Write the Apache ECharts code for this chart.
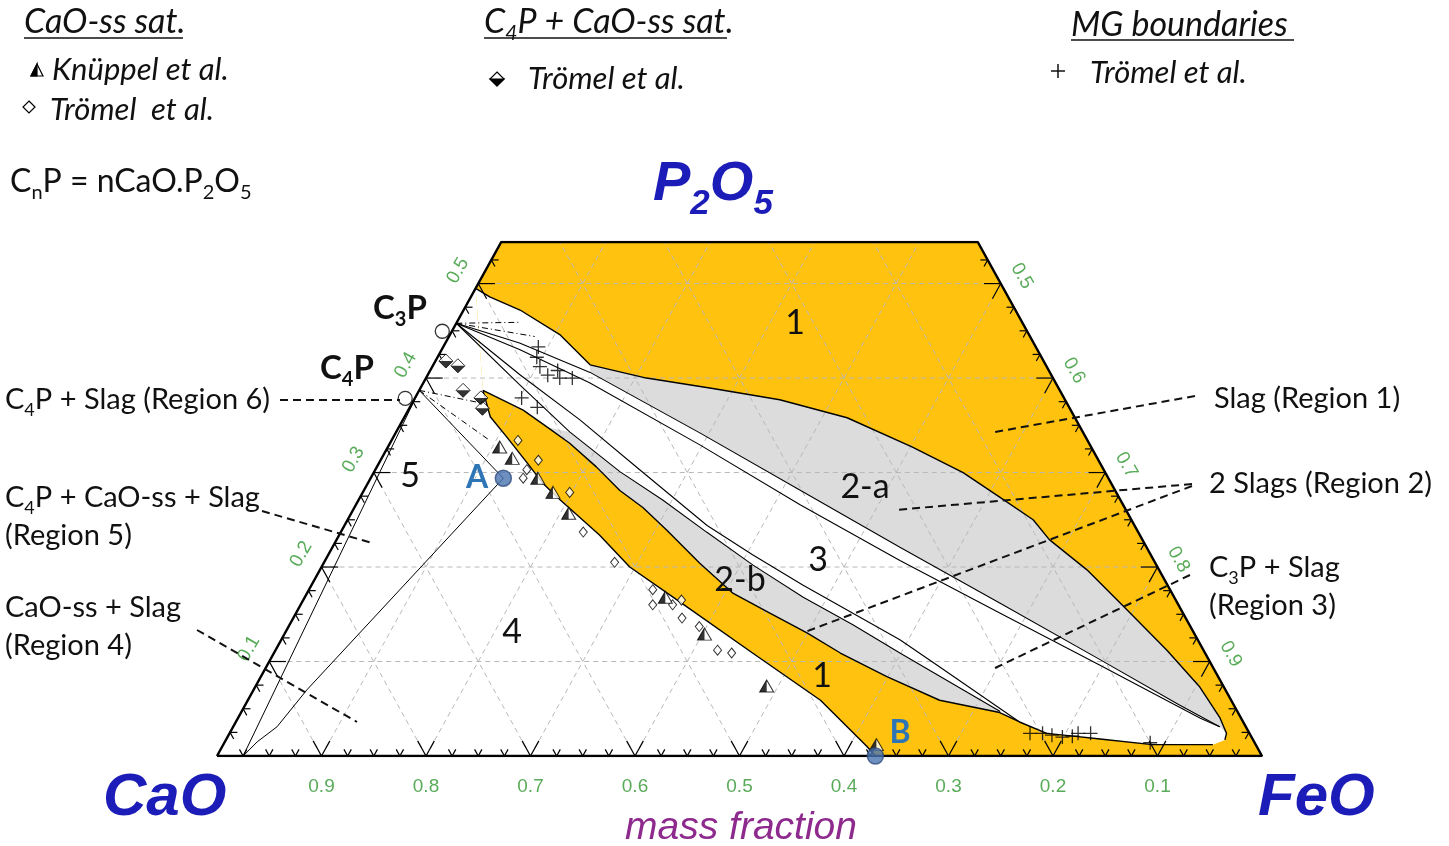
<!DOCTYPE html>
<html>
<head>
<meta charset="utf-8">
<script src="https://cdn.jsdelivr.net/npm/echarts@6/dist/echarts.min.js"></script>
<style>
html, body { margin: 0; padding: 0; background: #fff; }
#chart { width: 1449px; height: 846px; }
</style>
</head>
<body>
<div id="chart"></div>
<script>
// compositions are [CaO, P2O5] mass fractions, FeO = 1 - CaO - P2O5
var P_MAX = 0.544;
var C3P = [0.542, 0.458];
var C4P = [0.613, 0.387];
var CAO_SS = [0.975, 0.0];
var pointA = [0.579, 0.294];
var pointB = [0.370, 0.0];

// liquid boundary, upper branch (left edge -> FeO-rich tip)
var upperBoundary = [
  [0.505, 0.495], [0.496, 0.486], [0.474, 0.472], [0.449, 0.446], [0.436, 0.414],
  [0.389, 0.400], [0.331, 0.389], [0.273, 0.377], [0.218, 0.358], [0.171, 0.327],
  [0.136, 0.300], [0.114, 0.274], [0.094, 0.250], [0.089, 0.229], [0.069, 0.197],
  [0.052, 0.155], [0.035, 0.112], [0.023, 0.073], [0.020, 0.041], [0.022, 0.024],
  [0.027, 0.017]
];
// liquid boundary, lower branch (tip -> top of the CaO-ss band)
var lowerBoundary = [
  [0.041, 0.012], [0.099, 0.012], [0.146, 0.018], [0.170, 0.021], [0.194, 0.024],
  [0.214, 0.036], [0.228, 0.046], [0.279, 0.059], [0.317, 0.084], [0.349, 0.109],
  [0.370, 0.130], [0.395, 0.151], [0.420, 0.172], [0.436, 0.204], [0.450, 0.239],
  [0.461, 0.263], [0.474, 0.281], [0.484, 0.306], [0.497, 0.331], [0.510, 0.348],
  [0.524, 0.366], [0.552, 0.387]
];
// CaO-ss saturation line (band top -> B)
var caoSatLine = [
  [0.552, 0.387], [0.559, 0.359], [0.554, 0.338], [0.548, 0.310], [0.544, 0.289],
  [0.536, 0.271], [0.517, 0.234], [0.505, 0.200], [0.477, 0.165], [0.433, 0.109],
  [0.393, 0.059], [0.373, 0.010], [0.370, 0.0]
];
// lines fanning from C3P through the miscibility gap
var mgLine1 = [C3P, [0.492, 0.437], [0.440, 0.406], [0.367, 0.342], [0.301, 0.281], [0.236, 0.221],
  [0.170, 0.162], [0.104, 0.102], [0.052, 0.054], [0.025, 0.031]];
var mgLine2 = [C3P, [0.495, 0.430], [0.446, 0.395], [0.373, 0.329], [0.309, 0.266], [0.243, 0.207],
  [0.175, 0.151], [0.107, 0.096], [0.039, 0.040], [0.025, 0.031]];
var mgLine3 = [C3P, [0.508, 0.403], [0.475, 0.356], [0.444, 0.303], [0.409, 0.244], [0.381, 0.213],
  [0.349, 0.181], [0.316, 0.151], [0.285, 0.123], [0.261, 0.094], [0.214, 0.036]];
var mgLine4 = [C3P, [0.514, 0.393], [0.491, 0.343], [0.464, 0.301], [0.438, 0.271], [0.413, 0.237],
  [0.386, 0.202], [0.355, 0.168], [0.322, 0.139], [0.292, 0.109], [0.227, 0.047]];
var c3pDashDot = [[C3P, [0.480, 0.459]], [C3P, [0.474, 0.444]]];
var c4pDashDot = [[C4P, [0.562, 0.374]], [C4P, [0.572, 0.334]]];
var tieLineA = [CAO_SS, [0.954, 0.015], [0.927, 0.031], [0.879, 0.070], pointA];

// measured points
var knuppelCaoSat = [
  [0.566, 0.327], [0.560, 0.315], [0.546, 0.294], [0.539, 0.279], [0.535, 0.257],
  [0.487, 0.168], [0.469, 0.129], [0.437, 0.074], [0.363, 0.012]
];
var tromelCaoSat = [
  [0.545, 0.334], [0.536, 0.313], [0.552, 0.303], [0.560, 0.294], [0.523, 0.279],
  [0.531, 0.237], [0.517, 0.205], [0.495, 0.176], [0.503, 0.160], [0.484, 0.160],
  [0.473, 0.165], [0.482, 0.146], [0.470, 0.137], [0.465, 0.112], [0.453, 0.109]
];
var tromelC4pCaoSat = [[0.572, 0.418], [0.563, 0.413], [0.571, 0.387], [0.558, 0.379], [0.562, 0.368]];
var tromelMG = [
  [0.476, 0.433], [0.483, 0.422], [0.485, 0.412], [0.482, 0.403], [0.470, 0.408],
  [0.472, 0.400], [0.460, 0.400], [0.519, 0.379], [0.509, 0.369],
  [0.210, 0.024], [0.198, 0.024], [0.190, 0.022], [0.181, 0.020], [0.171, 0.021],
  [0.164, 0.024], [0.152, 0.024], [0.100, 0.014]
];

// tick labels
var bottomTickLabels = [0.9, 0.8, 0.7, 0.6, 0.5, 0.4, 0.3, 0.2, 0.1];   // CaO
var leftTickLabels = [0.1, 0.2, 0.3, 0.4, 0.5];                      // P2O5
var rightTickLabels = [0.5, 0.6, 0.7, 0.8, 0.9];                     // FeO

var YELLOW = '#FFC20E';
var GRAY = '#DCDCDC';
var GREEN = '#2f962f';
var BLUE = '#1c1cb8';

function toXY(c) { return [1 - c[0] - c[1] / 2, c[1]]; }

var topLeft = [1 - P_MAX, P_MAX], topRight = [0, P_MAX], feoCorner = [0, 0], caoCorner = [1, 0];
var yellowPoly = [topLeft, topRight, feoCorner, pointB].concat(caoSatLine.slice().reverse(), [upperBoundary[0]]);
var whitePoly = upperBoundary.concat(lowerBoundary);
var gray2a = upperBoundary.slice(4, 20).concat(mgLine1.slice(2).reverse());
var gray2b = mgLine4.slice(2).concat(lowerBoundary.slice(6, 20));

// grid lines every 0.1 and edge ticks every 0.025
var gridSegs = [], tickSegs = [];
for (var i = 1; i <= 9; i++) {
  var v = i / 10;
  if (v < P_MAX) gridSegs.push([[1 - v, v], [0, v]]);
  gridSegs.push([[v, 0], [v, Math.min(1 - v, P_MAX)]]);
  var pf = Math.min(v, P_MAX);
  gridSegs.push([[v, 0], [v - pf, pf]]);
}
function addTick(base, dirs, len) {
  dirs.forEach(function (d) { tickSegs.push([base, [base[0] + d[0] * len, base[1] + d[1] * len]]); });
}
for (var k = 1; k < 40; k++) {
  var t = k * 0.025, len = (k % 4 === 0) ? 0.016 : 0.007;
  addTick([t, 0], [[0, 1], [-1, 1]], len);
  if (t < P_MAX - 0.01) {
    addTick([1 - t, t], [[-1, 0], [0, -1]], len);
    addTick([0, t], [[1, 0], [1, -1]], len);
  }
}

function polySeries(points, color, z) {
  return {
    type: 'custom', z: z, silent: true, data: [[0.5, 0.2]],
    renderItem: function (params, api) {
      return { type: 'polygon', shape: { points: points.map(function (c) { return api.coord(toXY(c)); }) }, style: { fill: color } };
    }
  };
}
function segSeries(segs, style, z) {
  return {
    type: 'custom', z: z, silent: true,
    data: segs.map(function (s) { var a = toXY(s[0]), b = toXY(s[1]); return [a[0], a[1], b[0], b[1]]; }),
    encode: { x: [0, 2], y: [1, 3] },
    renderItem: function (params, api) {
      var p1 = api.coord([api.value(0), api.value(1)]);
      var p2 = api.coord([api.value(2), api.value(3)]);
      return { type: 'line', shape: { x1: p1[0], y1: p1[1], x2: p2[0], y2: p2[1] }, style: style };
    }
  };
}
function lineSeries(pts, width, type, z) {
  return {
    type: 'line', data: pts.map(toXY), symbol: 'none', silent: true, z: z,
    lineStyle: { color: '#000', width: width, type: type || 'solid' }
  };
}
function labelSeries(data, offset, rotate) {
  return {
    type: 'scatter', symbolSize: 0, silent: true, z: 8, data: data,
    label: { show: true, formatter: '{b}', position: 'inside', offset: offset, rotate: rotate,
      color: GREEN, fontSize: 19, fontFamily: 'Liberation Sans' }
  };
}

var halfDiamond = 'path://M0,5L10,5L5,10Z M5,0L5,0';
var halfTriangle = 'path://M5,0L0,10L5,10Z M10,10L10,10';
var plusPath = 'path://M5,0L5,10M0,5L10,5';

var chart = echarts.init(document.getElementById('chart'));

function rich(size, style, weight, color, family) {
  var s = Math.round(size * 0.62);
  return {
    n: { fontSize: size, fontStyle: style, fontWeight: weight, fontFamily: family, fill: color, lineHeight: Math.round(size * 1.3) },
    s: { fontSize: s, fontStyle: style, fontWeight: weight, fontFamily: family, fill: color, lineHeight: s, verticalAlign: 'bottom' }
  };
}
function txt(x, y, text, size, opts) {
  opts = opts || {};
  return {
    type: 'text', x: x, y: y, z: 20,
    style: {
      text: text, rich: rich(size, opts.style || 'normal', opts.weight || 'normal', opts.color || '#111', opts.family || 'Lato'),
      textAlign: opts.align || 'left', textVerticalAlign: 'middle'
    }
  };
}
function seg(x1, y1, x2, y2, dashed) {
  return { type: 'line', z: 20, shape: { x1: x1, y1: y1, x2: x2, y2: y2 },
    style: { stroke: '#111', lineWidth: dashed ? 2 : 1.5, lineDash: dashed ? [8, 5] : null } };
}
function poly(pts, fill) {
  return { type: 'polygon', z: 20, shape: { points: pts }, style: { fill: fill, stroke: '#000', lineWidth: 1.2 } };
}

var ANN = 29, LEG = 31, HEAD = 34;
var graphics = [
  txt(24, 22, '{n|CaO-ss sat.}', HEAD, { style: 'italic' }),
  seg(24, 38, 183, 38),
  poly([[37, 64], [31, 76], [43, 76]], '#fff'),
  poly([[37, 64], [31, 76], [37, 76]], '#000'),
  txt(52, 70, '{n|Knüppel et al.}', LEG, { style: 'italic' }),
  poly([[29, 101], [35, 107], [29, 113], [23, 107]], '#fff'),
  txt(50, 110, '{n|Trömel  et al.}', LEG, { style: 'italic' }),
  txt(10, 182, '{n|C}{s|n}{n|P = nCaO.P}{s|2}{n|O}{s|5}', 32),
  txt(484, 22, '{n|C}{s|4}{n|P + CaO-ss sat.}', HEAD, { style: 'italic' }),
  seg(484, 38, 727, 38),
  poly([[497, 72], [504, 79], [497, 86], [490, 79]], '#fff'),
  poly([[490, 79], [504, 79], [497, 86]], '#000'),
  txt(528, 79, '{n|Trömel et al.}', LEG, { style: 'italic' }),
  txt(1071, 25, '{n|MG boundaries}', HEAD, { style: 'italic' }),
  seg(1071, 40, 1294, 40),
  seg(1058, 64, 1058, 78),
  seg(1051, 71, 1065, 71),
  txt(1090, 73, '{n|Trömel et al.}', LEG, { style: 'italic' }),
  txt(653, 185, '{n|P}{s|2}{n|O}{s|5}', 56, { style: 'italic', weight: 'bold', color: BLUE, family: 'Liberation Sans' }),
  txt(103, 798, '{n|CaO}', 60, { style: 'italic', weight: 'bold', color: BLUE, family: 'Liberation Sans' }),
  txt(1258, 798, '{n|FeO}', 60, { style: 'italic', weight: 'bold', color: BLUE, family: 'Liberation Sans' }),
  txt(741, 828, '{n|mass fraction}', 39, { style: 'italic', color: '#8e2a8e', family: 'Liberation Sans', align: 'center' }),
  txt(373, 308, '{n|C}{s|3}{n|P}', 33, { weight: 'bold' }),
  txt(320, 368, '{n|C}{s|4}{n|P}', 33, { weight: 'bold' }),
  txt(5, 400, '{n|C}{s|4}{n|P + Slag (Region 6)}', ANN),
  txt(5, 498, '{n|C}{s|4}{n|P + CaO-ss + Slag}', ANN),
  txt(5, 536, '{n|(Region 5)}', ANN),
  txt(5, 608, '{n|CaO-ss + Slag}', ANN),
  txt(5, 646, '{n|(Region 4)}', ANN),
  txt(1214, 399, '{n|Slag (Region 1)}', ANN),
  txt(1209, 484, '{n|2 Slags (Region 2)}', ANN),
  txt(1209, 568, '{n|C}{s|3}{n|P + Slag}', ANN),
  txt(1209, 606, '{n|(Region 3)}', ANN),
  txt(795, 323, '{n|1}', 34, { align: 'center' }),
  txt(822, 676, '{n|1}', 34, { align: 'center' }),
  txt(865, 487, '{n|2-a}', 34, { align: 'center' }),
  txt(818, 560, '{n|3}', 34, { align: 'center' }),
  txt(740, 580, '{n|2-b}', 34, { align: 'center' }),
  txt(512, 632, '{n|4}', 34, { align: 'center' }),
  txt(410, 476, '{n|5}', 34, { align: 'center' }),
  txt(477, 478, '{n|A}', 32, { align: 'center', weight: 'bold', color: '#2E75B6' }),
  txt(900, 733, '{n|B}', 32, { align: 'center', weight: 'bold', color: '#2E75B6' }),
  seg(280, 400, 400, 400, true),
  seg(262, 511, 372, 543, true),
  seg(197, 630, 357, 722, true),
  seg(1195, 396, 995, 432, true),
  seg(1192, 484, 895, 510, true),
  seg(1192, 486, 805, 632, true),
  seg(1190, 575, 995, 668, true)
];

chart.setOption({
  animation: false,
  grid: { left: 217, right: 187, top: 242, bottom: 90 },
  xAxis: { type: 'value', min: 0, max: 1, show: false },
  yAxis: { type: 'value', min: 0, max: P_MAX, show: false },
  graphic: graphics,
  series: [
    polySeries(yellowPoly, YELLOW, 1),
    polySeries(whitePoly, '#fff', 2),
    polySeries(gray2a, GRAY, 3),
    polySeries(gray2b, GRAY, 3),
    segSeries(gridSegs, { stroke: '#b8b8b8', lineWidth: 1, lineDash: [5, 4] }, 4),
    lineSeries(upperBoundary, 1.4, 'solid', 5),
    lineSeries(lowerBoundary, 1.4, 'solid', 5),
    lineSeries(caoSatLine, 1.4, 'solid', 5),
    lineSeries(mgLine1, 1.1, 'solid', 5),
    lineSeries(mgLine2, 1.1, 'solid', 5),
    lineSeries(mgLine3, 1.1, 'solid', 5),
    lineSeries(mgLine4, 1.1, 'solid', 5),
    lineSeries(c3pDashDot[0], 1, [6, 3, 1, 3], 5),
    lineSeries(c3pDashDot[1], 1, [6, 3, 1, 3], 5),
    lineSeries(c4pDashDot[0], 1, [6, 3, 1, 3], 5),
    lineSeries(c4pDashDot[1], 1, [6, 3, 1, 3], 5),
    lineSeries(tieLineA, 1, 'solid', 5),
    lineSeries([CAO_SS, C4P], 1, 'solid', 5),
    lineSeries([C4P, pointA], 1, 'solid', 5),
    lineSeries([caoCorner, topLeft, topRight, feoCorner, caoCorner], 2.5, 'solid', 6),
    segSeries(tickSegs, { stroke: '#000', lineWidth: 1.2 }, 6),
    { type: 'scatter', z: 7, silent: true, data: tromelCaoSat.map(toXY), symbol: 'diamond', symbolSize: [8, 10],
      itemStyle: { color: '#fff', borderColor: '#000', borderWidth: 1 } },
    { type: 'scatter', z: 7, silent: true, data: knuppelCaoSat.map(toXY), symbol: 'triangle', symbolSize: [14, 12],
      itemStyle: { color: '#fff', borderColor: '#000', borderWidth: 1 } },
    { type: 'scatter', z: 7, silent: true, data: knuppelCaoSat.map(toXY), symbol: halfTriangle, symbolSize: [14, 12],
      itemStyle: { color: '#000' } },
    { type: 'scatter', z: 7, silent: true, data: tromelC4pCaoSat.map(toXY), symbol: 'diamond', symbolSize: 14,
      itemStyle: { color: '#fff', borderColor: '#000', borderWidth: 1 } },
    { type: 'scatter', z: 7, silent: true, data: tromelC4pCaoSat.map(toXY), symbol: halfDiamond, symbolSize: 14,
      itemStyle: { color: '#000' } },
    { type: 'scatter', z: 7, silent: true, data: tromelMG.map(toXY), symbol: plusPath, symbolSize: 14,
      itemStyle: { color: 'none', borderColor: '#000', borderWidth: 1.3 } },
    { type: 'scatter', z: 7, silent: true, data: [C3P, C4P].map(toXY), symbol: 'circle', symbolSize: 14,
      symbolOffset: [-14, 8], itemStyle: { color: 'rgba(255,255,255,0)', borderColor: '#000', borderWidth: 1.3 } },
    { type: 'scatter', z: 9, silent: true, data: [pointA, pointB].map(toXY), symbol: 'circle', symbolSize: 16,
      itemStyle: { color: '#4a74b0', borderColor: '#2f4f7f', borderWidth: 1.5 } },
    labelSeries(bottomTickLabels.map(function (v) { return { name: v.toFixed(1), value: toXY([v, 0]) }; }), [0, 31], 0),
    labelSeries(leftTickLabels.map(function (v) { return { name: v.toFixed(1), value: toXY([1 - v, v]) }; }), [1, -24], 60),
    labelSeries(rightTickLabels.map(function (v) { return { name: v.toFixed(1), value: toXY([0, 1 - v]) }; }), [4, -22], -60)
  ]
});
</script>
</body>
</html>
